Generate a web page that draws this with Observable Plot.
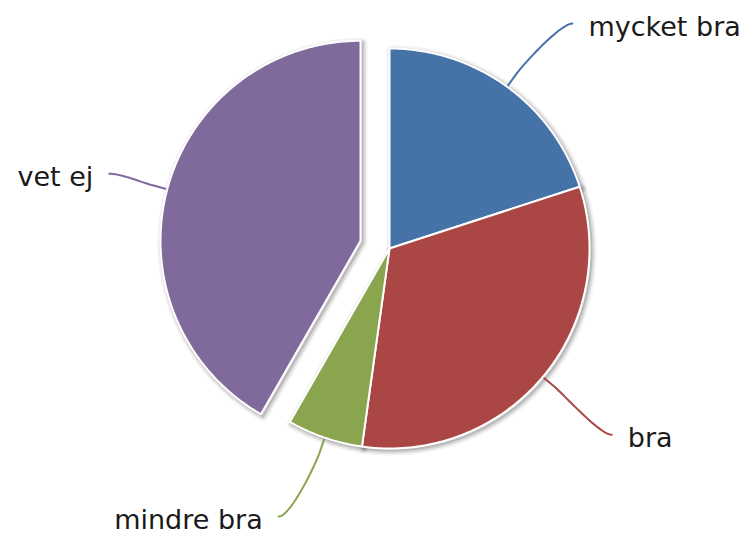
<!DOCTYPE html>
<html><head><meta charset="utf-8">
<script src="https://cdn.jsdelivr.net/npm/d3@7"></script>
<script src="https://cdn.jsdelivr.net/npm/@observablehq/plot@0.6"></script>
<style>html,body{margin:0;padding:0;background:#fff}</style>
</head><body><div id="chart"></div>
<script>
const categories = ["mycket bra", "bra", "mindre bra", "vet ej"];
const values = [20, 32.2, 6.1, 41.7];
const colors = ["#4572A7", "#AA4643", "#89A54E", "#80699B"];
const sliced = [false, false, false, true];

const W = 745, H = 535;
const cx = 389, cy = 248, r = 200, offset = 30, labelR = 290, yMin = 23, yMax = 516;

const pie = d3.pie().sort(null).value(d => d.value)(
  categories.map((c, i) => ({name: c, value: values[i], color: colors[i], sliced: sliced[i]}))
);

const slices = [], connectors = [], labels = [];
pie.forEach(a => {
  const d = a.data;
  const mid = (a.startAngle + a.endAngle) / 2;
  const ux = Math.sin(mid), uy = -Math.cos(mid);
  const ox = cx + (d.sliced ? offset * ux : 0), oy = cy + (d.sliced ? offset * uy : 0);
  const pts = [[ox, oy]];
  const n = Math.max(2, Math.ceil((a.endAngle - a.startAngle) / (Math.PI / 360)));
  for (let k = 0; k <= n; k++) {
    const t = a.startAngle + (a.endAngle - a.startAngle) * k / n;
    pts.push([ox + r * Math.sin(t), oy - r * Math.cos(t)]);
  }
  pts.push([ox, oy]);
  pts.forEach(([x, y]) => slices.push({name: d.name, color: d.color, x, y}));

  const ly = Math.max(yMin, Math.min(yMax, cy + labelR * uy));
  const side = ux >= 0 ? 1 : -1;
  const lx = cx + side * Math.sqrt(Math.max(0, labelR * labelR - (ly - cy) ** 2));
  labels.push({name: d.name, x: lx + side * 16, y: ly, side});

  const base = [ox + (r + 2) * ux, oy + (r + 2) * uy];
  const brk = [ox + (r + 15) * ux, oy + (r + 15) * uy];
  const p0 = [lx, ly], c1 = [lx - side * 12, ly];
  const c2 = [2 * brk[0] - base[0], 2 * brk[1] - base[1]];
  const m = 30;
  for (let k = 0; k <= m; k++) {
    const t = k / m, s = 1 - t;
    const x = s*s*s*p0[0] + 3*s*s*t*c1[0] + 3*s*t*t*c2[0] + t*t*t*brk[0];
    const y = s*s*s*p0[1] + 3*s*s*t*c1[1] + 3*s*t*t*c2[1] + t*t*t*brk[1];
    connectors.push({name: d.name, color: d.color, x, y});
  }
  connectors.push({name: d.name, color: d.color, x: base[0], y: base[1]});
});

const font = {fontSize: 27, fontFamily: "DejaVu Sans, sans-serif", fill: "#1a1a1a", dy: 4};

const chart = Plot.plot({
  width: W, height: H, margin: 0,
  x: {domain: [0, W], range: [0, W], axis: null},
  y: {domain: [0, H], range: [0, H], axis: null},
  marks: [
    Plot.line(slices, {x: "x", y: "y", z: "name", stroke: "#000", strokeOpacity: 0.05, strokeWidth: 10, dx: 2, dy: 2, curve: "linear"}),
    Plot.line(slices, {x: "x", y: "y", z: "name", stroke: "#000", strokeOpacity: 0.1, strokeWidth: 6, dx: 2, dy: 2, curve: "linear"}),
    Plot.line(slices, {x: "x", y: "y", z: "name", stroke: "#000", strokeOpacity: 0.15, strokeWidth: 2, dx: 2, dy: 2, curve: "linear"}),
    Plot.line(slices, {x: "x", y: "y", z: "name", fill: "color", stroke: "#fff", strokeWidth: 2, strokeLinejoin: "round", curve: "linear"}),
    Plot.line(connectors, {x: "x", y: "y", z: "name", stroke: "color", strokeWidth: 2, curve: "linear"}),
    Plot.text(labels.filter(d => d.side > 0), {x: "x", y: "y", text: "name", textAnchor: "start", ...font}),
    Plot.text(labels.filter(d => d.side < 0), {x: "x", y: "y", text: "name", textAnchor: "end", ...font})
  ]
});
document.getElementById("chart").appendChild(chart);
</script>
</body></html>
